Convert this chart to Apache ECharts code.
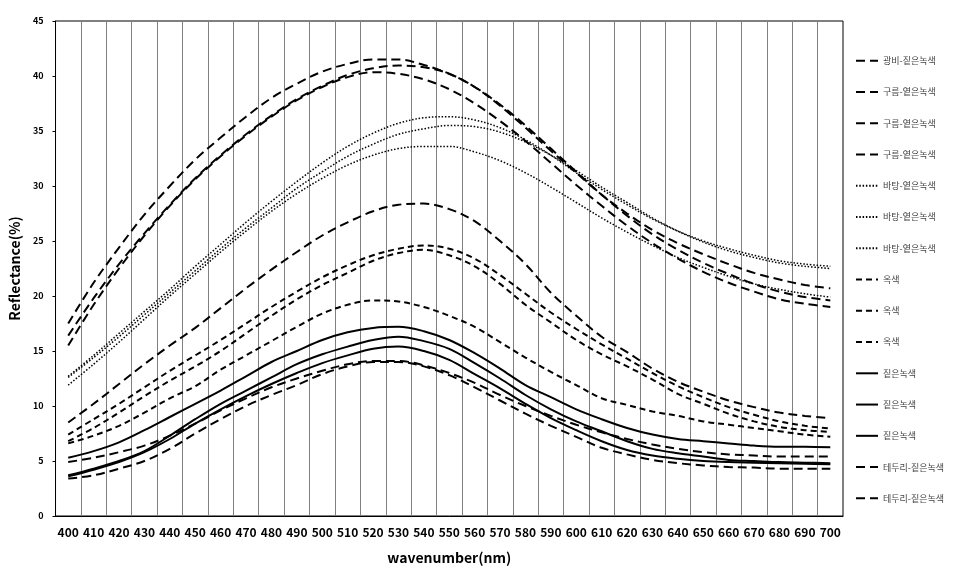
<!DOCTYPE html>
<html><head><meta charset="utf-8">
<script src="https://cdn.jsdelivr.net/npm/echarts@6/dist/echarts.min.js"></script>
<style>html,body{margin:0;padding:0;background:#fff}#c{width:955px;height:571px}</style>
</head><body><div id="c"></div>
<script>
const wavelengths = ['400','410','420','430','440','450','460','470','480','490','500','510','520','530','540','550','560','570','580','590','600','610','620','630','640','650','660','670','680','690','700'];

const gwangbi  = [17.5,21.2,24.4,27.4,30.0,32.4,34.4,36.3,38.0,39.3,40.4,41.1,41.5,41.5,41.0,40.2,39.0,37.3,35.3,33.2,31.2,29.2,27.5,26.0,24.8,23.8,22.9,22.1,21.5,21.0,20.7];
const gureum1  = [16.4,19.8,22.9,25.7,28.3,30.7,32.8,34.7,36.4,37.9,39.1,40.1,40.7,40.95,40.8,40.2,39.0,37.4,35.5,33.4,31.3,29.2,27.3,25.6,24.2,23.0,22.0,21.1,20.4,19.9,19.6];
const gureum2  = [15.5,19.2,22.5,25.5,28.2,30.6,32.7,34.6,36.3,37.8,39.0,39.9,40.35,40.2,39.7,38.8,37.5,35.9,34.1,32.1,30.1,28.2,26.4,24.8,23.4,22.2,21.2,20.4,19.7,19.3,19.0];
const gureum3  = [8.5,10.2,12.0,13.8,15.5,17.1,18.9,20.7,22.4,24.0,25.5,26.7,27.7,28.3,28.4,27.9,26.8,25.0,22.9,20.3,18.2,16.3,14.9,13.4,12.2,11.3,10.5,9.9,9.4,9.1,8.9];
const batang1  = [12.7,14.6,16.6,18.6,20.6,22.7,24.7,26.7,28.6,30.4,32.1,33.6,34.8,35.7,36.2,36.3,36.0,35.3,34.2,32.8,31.2,29.7,28.3,27.0,25.9,25.0,24.3,23.7,23.2,22.9,22.7];
const batang2  = [12.6,14.4,16.3,18.3,20.3,22.3,24.3,26.2,28.0,29.8,31.3,32.7,33.8,34.7,35.2,35.5,35.4,34.9,34.0,32.8,31.4,29.9,28.5,27.1,25.9,24.9,24.1,23.5,23.0,22.7,22.5];
const batang3  = [11.9,13.8,15.8,17.9,20.0,22.0,24.0,25.9,27.7,29.3,30.7,31.9,32.8,33.4,33.6,33.6,33.1,32.3,31.2,29.9,28.5,27.1,25.8,24.6,23.5,22.6,21.8,21.1,20.6,20.2,19.9];
const oksaek1  = [7.4,8.8,10.2,11.7,13.2,14.6,16.0,17.5,19.0,20.4,21.7,22.8,23.7,24.3,24.6,24.3,23.4,21.9,20.2,18.5,17.0,15.6,14.3,13.0,11.8,10.8,9.9,9.2,8.6,8.2,7.95];
const oksaek2  = [6.8,8.0,9.4,10.9,12.3,13.6,15.0,16.6,18.2,19.7,21.0,22.1,23.2,23.9,24.2,23.7,22.7,21.1,19.2,17.6,16.0,14.7,13.6,12.4,11.1,10.2,9.3,8.6,8.1,7.8,7.65];
const oksaek3  = [6.6,7.3,8.2,9.4,10.7,11.8,13.3,14.6,15.9,17.2,18.4,19.2,19.6,19.5,19.0,18.2,17.2,15.8,14.4,13.1,11.9,10.7,10.1,9.5,9.1,8.6,8.3,8.0,7.7,7.4,7.2];
const jiteun1  = [5.3,5.9,6.7,7.8,9.0,10.2,11.4,12.7,14.0,15.0,16.0,16.7,17.1,17.2,16.8,16.0,14.8,13.4,11.9,10.8,9.7,8.8,8.0,7.4,7.0,6.8,6.6,6.4,6.3,6.3,6.25];
const jiteun2  = [3.7,4.3,5.0,5.9,7.3,8.8,10.2,11.4,12.6,13.8,14.7,15.4,16.0,16.3,15.9,15.2,13.9,12.5,11.0,9.7,8.6,7.7,6.8,6.1,5.7,5.4,5.1,5.0,4.9,4.85,4.8];
const jiteun3  = [3.6,4.2,4.9,5.8,7.0,8.4,9.7,10.9,12.0,13.0,13.9,14.6,15.2,15.4,15.0,14.2,12.9,11.6,10.2,8.9,7.8,6.8,6.0,5.5,5.2,5.0,4.9,4.85,4.8,4.75,4.7];
const teduri1  = [4.9,5.3,5.8,6.4,7.3,8.4,9.6,10.7,11.7,12.5,13.2,13.8,14.1,14.1,13.7,13.0,12.1,11.0,10.0,9.1,8.3,7.6,7.0,6.5,6.1,5.8,5.6,5.5,5.4,5.4,5.4];
const teduri2  = [3.4,3.7,4.3,5.0,6.1,7.5,8.8,10.0,11.0,11.9,12.9,13.6,14.0,14.0,13.6,12.8,11.7,10.5,9.3,8.2,7.2,6.2,5.6,5.1,4.8,4.6,4.45,4.4,4.3,4.3,4.3];

const yTicks = [0,5,10,15,20,25,30,35,40,45];

// legend name, data, style kind
const seriesList = [
  ['광비-짙은녹색', gwangbi, 'long'],
  ['구름-옅은녹색', gureum1, 'long'],
  ['구름-옅은녹색', gureum2, 'long'],
  ['구름-옅은녹색', gureum3, 'long'],
  ['바탕-옅은녹색', batang1, 'dot'],
  ['바탕-옅은녹색', batang2, 'dot'],
  ['바탕-옅은녹색', batang3, 'dot'],
  ['옥색', oksaek1, 'short'],
  ['옥색', oksaek2, 'short'],
  ['옥색', oksaek3, 'short'],
  ['짙은녹색', jiteun1, 'solid'],
  ['짙은녹색', jiteun2, 'solid'],
  ['짙은녹색', jiteun3, 'solid'],
  ['테두리-짙은녹색', teduri1, 'long'],
  ['테두리-짙은녹색', teduri2, 'long']
];

const styles = {
  long:  {type: [9, 5], width: 2},
  short: {type: [6, 4], width: 2},
  dot:   {type: [1.5, 1.8], width: 1.5},
  solid: {type: 'solid', width: 2}
};

const series = seriesList.map((s, i) => ({
  name: s[0] + '#' + i,
  type: 'line',
  data: s[1],
  symbol: 'none',
  smooth: 0.35,
  lineStyle: Object.assign({color: '#000'}, styles[s[2]]),
  itemStyle: {color: '#000'}
}));

const chart = echarts.init(document.getElementById('c'));
chart.setOption({
  animation: false,
  backgroundColor: '#fff',
  grid: {left: 51, right: 112, top: 21, bottom: 55, show: true, borderColor: '#000', borderWidth: 1},
  legend: {
    orient: 'vertical', left: 855, top: 54.7, padding: 0,
    itemWidth: 22, itemHeight: 12, itemGap: 19.26,
    data: series.map(s => s.name),
    formatter: n => n.split('#')[0],
    itemStyle: {color: 'rgba(0,0,0,0)', borderWidth: 0, opacity: 0},
    textStyle: {fontSize: 9, color: '#444', lineHeight: 12, fontFamily: 'Noto Sans CJK KR'}
  },
  xAxis: {
    type: 'category', data: wavelengths, boundaryGap: true,
    name: 'wavenumber(nm)', nameLocation: 'middle', nameGap: 35,
    nameTextStyle: {fontSize: 14, fontWeight: 'bold', color: '#000', fontFamily: 'Noto Sans CJK KR'},
    axisLine: {lineStyle: {color: '#000', width: 1}},
    axisTick: {show: false},
    axisLabel: {fontSize: 12, fontWeight: 'bold', color: '#000', margin: 10, interval: 0, fontFamily: 'Noto Sans CJK KR'},
    splitLine: {show: true, interval: 0, lineStyle: {color: '#808080', width: 1}}
  },
  yAxis: {
    type: 'value', min: yTicks[0], max: yTicks[yTicks.length - 1], interval: 5,
    name: 'Reflectance(%)', nameLocation: 'middle', nameGap: 18, nameRotate: 90,
    nameTextStyle: {fontSize: 14, fontWeight: 'bold', color: '#000', fontFamily: 'Noto Sans CJK KR'},
    axisLine: {show: true, lineStyle: {color: '#000', width: 1}},
    axisTick: {show: true, length: 3, lineStyle: {color: '#000'}},
    axisLabel: {fontSize: 9, fontWeight: 'bold', color: '#000', margin: 12, fontFamily: 'Noto Sans CJK KR'},
    splitLine: {show: false}
  },
  series: series
});
</script></body></html>
